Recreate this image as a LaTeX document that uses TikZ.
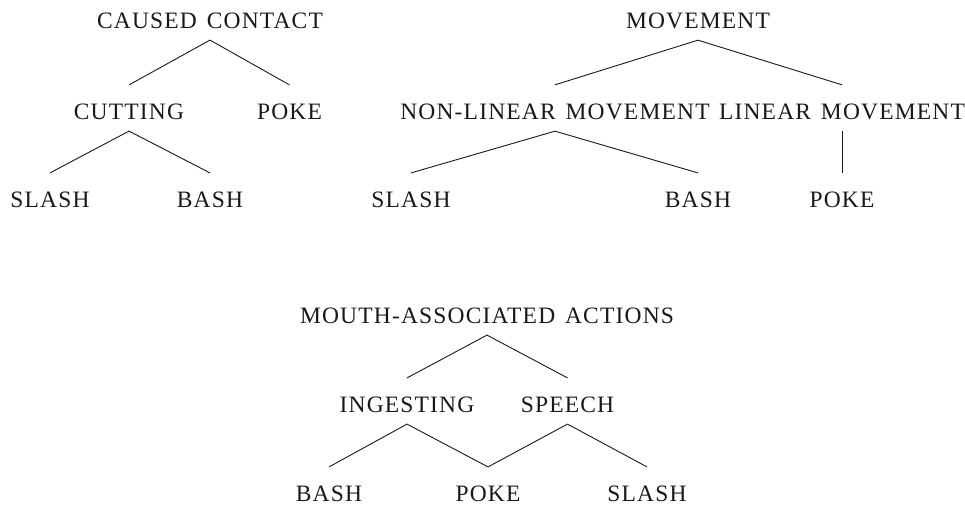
\documentclass[tikz,border=0pt]{standalone}
\usepackage{fontspec}
\setmainfont{Liberation Serif}[LetterSpace=5,WordSpace=1.4]
\begin{document}
\begin{tikzpicture}[x=1pt,y=1pt,
  lbl/.style={inner sep=0pt, font=\fontsize{23.5}{26}\selectfont, text=black!90},
  edge/.style={line width=0.9pt, black!90}]
\useasboundingbox (0,0) rectangle (965,-507);
% Tree 1
\node[lbl] (cc) at (210,-21) {CAUSED CONTACT};
\node[lbl] (cut) at (129,-112) {CUTTING};
\node[lbl] (pk1) at (289.5,-112) {POKE};
\node[lbl] (sl1) at (50,-200) {SLASH};
\node[lbl] (ba1) at (210,-200) {BASH};
% Tree 2
\node[lbl] (mv) at (698,-21) {MOVEMENT};
\node[lbl] (nlm) at (555,-112) {NON-LINEAR MOVEMENT};
\node[lbl] (lm) at (842,-112) {LINEAR MOVEMENT};
\node[lbl] (sl2) at (411,-200) {SLASH};
\node[lbl] (ba2) at (698,-200) {BASH};
\node[lbl] (pk2) at (842,-200) {POKE};
% Tree 3
\node[lbl] (mo) at (487,-316) {MOUTH-ASSOCIATED ACTIONS};
\node[lbl] (ing) at (407,-405) {INGESTING};
\node[lbl] (sp) at (567.5,-405) {SPEECH};
\node[lbl] (ba3) at (329,-494) {BASH};
\node[lbl] (pk3) at (488,-494) {POKE};
\node[lbl] (sl3) at (647,-494) {SLASH};
% Edges
\foreach \p/\c in {cc/cut, cc/pk1, cut/sl1, cut/ba1,
                   mv/nlm, mv/lm, nlm/sl2, nlm/ba2, lm/pk2,
                   mo/ing, mo/sp, ing/ba3, ing/pk3, sp/pk3, sp/sl3}
  \draw[edge] ([yshift=-11pt]\p.south) -- ([yshift=19pt]\c.north);
\end{tikzpicture}
\end{document}
